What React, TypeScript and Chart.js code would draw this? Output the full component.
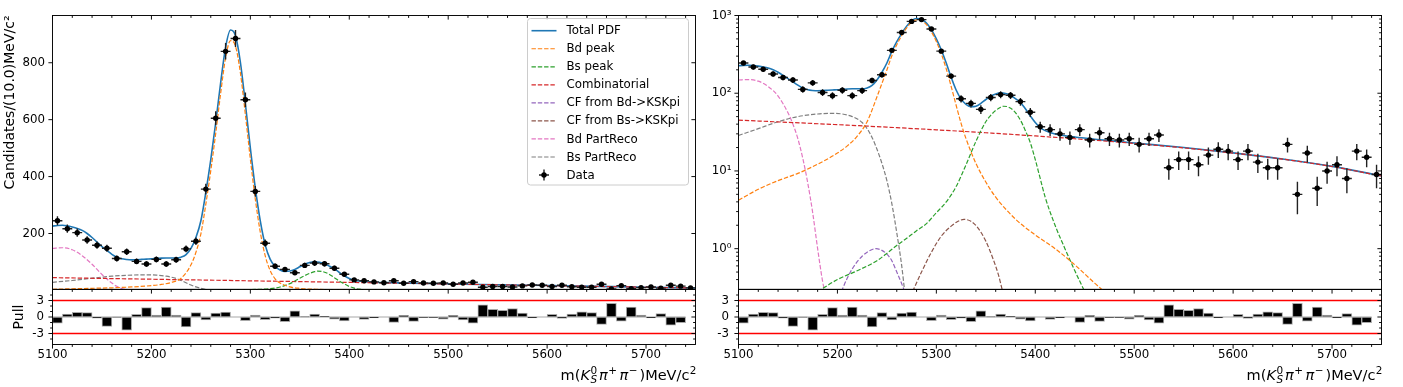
import React, { useEffect, useRef } from 'react';
import { Chart, registerables } from 'chart.js';

Chart.register(...registerables);
Chart.defaults.font.family = "'DejaVu Sans', sans-serif";
Chart.defaults.color = '#000';

// ---------------- data ----------------
const massBins = [5105, 5115, 5125, 5135, 5145, 5155, 5165, 5175, 5185, 5195, 5205, 5215, 5225, 5235, 5245, 5255, 5265, 5275, 5285, 5295, 5305, 5315, 5325, 5335, 5345, 5355, 5365, 5375, 5385, 5395, 5405, 5415, 5425, 5435, 5445, 5455, 5465, 5475, 5485, 5495, 5505, 5515, 5525, 5535, 5545, 5555, 5565, 5575, 5585, 5595, 5605, 5615, 5625, 5635, 5645, 5655, 5665, 5675, 5685, 5695, 5705, 5715, 5725, 5735, 5745];
const dataCounts = [245, 217, 203, 177, 159, 148, 112, 136, 102, 93, 109, 93, 108, 146, 173, 356, 605, 840, 885, 670, 348, 166, 85, 74, 62, 88, 96, 94, 78, 57, 37, 34, 30, 27, 34, 25, 31, 26, 25, 26, 22, 26, 29, 11, 14, 14, 12, 16, 19, 18, 14, 18, 13, 11, 11, 22, 5, 17, 6, 10, 12, 8, 18, 15, 9];
const pullValues = [-1.1, 0.55, 0.85, 0.8, -0.2, -1.7, -0.05, -2.4, 0.5, 1.7, 0.35, 1.8, 0.35, -1.8, 0.8, -0.55, 0.7, 0.9, 0.0, -0.65, 0.35, -0.5, -0.2, -0.85, 1.1, 0.05, 0.55, 0.1, -0.4, -0.7, 0.0, -0.45, -0.15, 0.0, -1.0, 0.3, -0.8, -0.1, -0.1, -0.4, 0.3, -0.55, -1.1, 2.2, 1.4, 1.2, 1.55, 0.7, -0.15, 0.0, 0.5, -0.25, 0.55, 0.95, 0.8, -1.35, 2.5, -0.75, 1.8, 0.35, -0.15, 0.6, -1.5, -1.05, 0.0];
const BIN_HALF_WIDTH = 5;

const xTickValues = [5100, 5200, 5300, 5400, 5500, 5600, 5700];
const linearYTicks = [200, 400, 600, 800];
const logYTicks = [1, 10, 100, 1000];
const logYTickLabels = ['10⁰', '10¹', '10²', '10³'];
const pullTicks = [-3, 0, 3];
const pullMinorTicks = [-4, -2, -1, 1, 2, 4];
const pullLimit = 3;

const totalX = [5100, 5105, 5110, 5115, 5120, 5125, 5130, 5135, 5140, 5145, 5150, 5155, 5160, 5165, 5170, 5175, 5180, 5185, 5190, 5195, 5200, 5205, 5210, 5215, 5220, 5225, 5230, 5235, 5240, 5245, 5250, 5255, 5260, 5265, 5270, 5275, 5280, 5285, 5290, 5295, 5300, 5305, 5310, 5315, 5320, 5325, 5330, 5335, 5340, 5345, 5350, 5355, 5360, 5365, 5370, 5375, 5380, 5385, 5390, 5395, 5400, 5405, 5410, 5420, 5440, 5460, 5480, 5500, 5550, 5600, 5650, 5700, 5750];
const totalY = [226, 228, 229, 227, 223, 218, 211, 200, 186, 170, 154, 140, 127, 117, 111, 108.5, 107.5, 108, 109, 110, 111, 112.5, 113.5, 114, 114, 114, 117, 126, 148, 186, 245, 345, 460, 590, 730, 855, 915, 895, 800, 655, 500, 360, 245, 160, 110, 84, 72, 67, 68, 74, 83, 92, 98, 101, 99, 94, 85, 76, 63, 51, 42, 36, 33, 29.8, 27.3, 25.6, 24.2, 22.9, 20, 17.1, 14.25, 11.45, 8.65];

const bdPeakX = [5100, 5120, 5140, 5160, 5180, 5200, 5210, 5220, 5230, 5240, 5245, 5250, 5255, 5260, 5265, 5270, 5275, 5280, 5285, 5290, 5295, 5300, 5305, 5310, 5315, 5320, 5325, 5330, 5340, 5350, 5360, 5380, 5400, 5420, 5440, 5460, 5470];
const bdPeakY = [4.2, 5.8, 7.5, 9.3, 12.2, 17, 21, 28, 43, 90, 134, 199, 303, 421, 552, 693, 818, 878, 858, 763, 617, 462, 321, 206, 122, 70, 41, 26, 12.5, 7.2, 4.6, 2.4, 1.5, 1.0, 0.62, 0.36, 0.28];

const bsPeakX = [5180, 5200, 5220, 5240, 5250, 5260, 5270, 5280, 5290, 5300, 5310, 5320, 5330, 5340, 5350, 5355, 5360, 5365, 5368, 5372, 5378, 5385, 5390, 5395, 5400, 5405, 5410, 5420, 5430, 5440, 5450];
const bsPeakY = [0.28, 0.4, 0.52, 0.7, 0.87, 1.1, 1.36, 1.7, 2.1, 2.9, 4.0, 6.3, 12, 24, 43, 52, 60, 66, 68, 67, 60, 45, 33, 23, 14, 8, 4.6, 2.0, 1.0, 0.52, 0.28];

const combX = [5100, 5150, 5200, 5250, 5300, 5350, 5400, 5450, 5500, 5550, 5600, 5650, 5700, 5750];
const combY = [45, 42.2, 39.4, 36.6, 33.8, 31, 28.2, 25.4, 22.6, 19.8, 17, 14.2, 11.4, 8.6];

const cfBdX = [5204, 5210, 5215, 5220, 5225, 5230, 5239, 5245, 5250, 5255, 5260, 5264, 5268];
const cfBdY = [0.28, 0.42, 0.55, 0.68, 0.8, 0.9, 1.0, 0.95, 0.85, 0.7, 0.5, 0.38, 0.28];

const cfBsX = [5276, 5285, 5295, 5305, 5315, 5322, 5328, 5335, 5342, 5350, 5358, 5363, 5367];
const cfBsY = [0.28, 0.5, 0.9, 1.45, 1.95, 2.25, 2.38, 2.25, 1.85, 1.25, 0.7, 0.45, 0.28];

const bdPartRecoX = [5100, 5110, 5120, 5130, 5140, 5150, 5155, 5160, 5165, 5170, 5175, 5180, 5185, 5188];
const bdPartRecoY = [148, 150, 143, 122, 92, 56, 40, 26, 14.5, 7, 2.9, 1.0, 0.38, 0.25];

const bsPartRecoX = [5100, 5120, 5140, 5160, 5180, 5195, 5205, 5215, 5225, 5230, 5235, 5240, 5245, 5250, 5255, 5260, 5265, 5268];
const bsPartRecoY = [28.6, 35, 43, 50, 54, 55, 54, 50, 42, 35, 27, 19, 12.5, 7.5, 3.8, 1.6, 0.6, 0.28];

// ---------------- styling ----------------
const C = {
  total: '#1f77b4', bd: '#ff7f0e', bs: '#2ca02c', comb: '#d62728',
  cfbd: '#9467bd', cfbs: '#8c564b', bdpr: '#e377c2', bspr: '#7f7f7f',
};
const FONT = "'DejaVu Sans', sans-serif";
const TICK_FONT = 11.8;
const LABEL_FONT = 14;
const DASH = [4.4, 1.9];

const components = [
  { label: 'Bd peak', xs: bdPeakX, ys: bdPeakY, color: C.bd },
  { label: 'Bs peak', xs: bsPeakX, ys: bsPeakY, color: C.bs },
  { label: 'Combinatorial', xs: combX, ys: combY, color: C.comb },
  { label: 'CF from Bd->KSKpi', xs: cfBdX, ys: cfBdY, color: C.cfbd },
  { label: 'CF from Bs->KSKpi', xs: cfBsX, ys: cfBsY, color: C.cfbs },
  { label: 'Bd PartReco', xs: bdPartRecoX, ys: bdPartRecoY, color: C.bdpr },
  { label: 'Bs PartReco', xs: bsPartRecoX, ys: bsPartRecoY, color: C.bspr },
];

const legendEntries = [
  { label: 'Total PDF', color: C.total, dashed: false, marker: false },
  ...components.map((c) => ({ label: c.label, color: c.color, dashed: true, marker: false })),
  { label: 'Data', color: '#000', dashed: false, marker: true },
];

const pts = (xs: number[], ys: number[]) => xs.map((x, i) => ({ x, y: ys[i] }));

const xMinor: number[] = [];
for (let v = 5120; v < 5750; v += 20) if (v % 100 !== 0) xMinor.push(v);
const logMinor: number[] = [];
[0.1, 1, 10, 100].forEach((d) => {
  for (let k = 2; k <= 9; k++) {
    const v = d * k;
    if (v >= 0.31 && v <= 1000) logMinor.push(v);
  }
});

// ---------------- plugins ----------------
const MAJ = 4.1;
const MIN = 2.4;

const framePlugin = {
  id: 'frame',
  afterDraw(chart: any, _a: any, o: any) {
    if (!o || !o.on) return;
    const { ctx, chartArea: a } = chart;
    const xs = chart.scales.x;
    const ys = chart.scales.y;
    ctx.save();
    ctx.strokeStyle = '#000';
    ctx.lineWidth = 0.95;
    const line = (x1: number, y1: number, x2: number, y2: number) => {
      ctx.beginPath();
      ctx.moveTo(x1, y1);
      ctx.lineTo(x2, y2);
      ctx.stroke();
    };
    (['top', 'bottom'] as const).forEach((side) => {
      const dir = o[side];
      if (!dir) return;
      const y0 = side === 'top' ? a.top : a.bottom;
      const s = (side === 'top') === (dir === 'in') ? 1 : -1;
      (o.xMaj || []).forEach((v: number) => { const p = xs.getPixelForValue(v); line(p, y0, p, y0 + s * MAJ); });
      (o.xMin || []).forEach((v: number) => { const p = xs.getPixelForValue(v); line(p, y0, p, y0 + s * MIN); });
    });
    (['left', 'right'] as const).forEach((side) => {
      const dir = o[side];
      if (!dir) return;
      const x0 = side === 'left' ? a.left : a.right;
      const s = (side === 'left') === (dir === 'in') ? 1 : -1;
      (o.yMaj || []).forEach((v: number) => { const p = ys.getPixelForValue(v); line(x0, p, x0 + s * MAJ, p); });
      (o.yMin || []).forEach((v: number) => { const p = ys.getPixelForValue(v); line(x0, p, x0 + s * MIN, p); });
    });
    ctx.strokeRect(a.left, a.top, a.right - a.left, a.bottom - a.top);
    ctx.restore();
  },
};

const errorBarPlugin = {
  id: 'errbars',
  beforeDatasetDraw(chart: any, args: any) {
    const ds = chart.data.datasets[args.index];
    if (!ds || !ds.errBars) return;
    const { ctx, chartArea: a } = chart;
    const xs = chart.scales.x;
    const ys = chart.scales.y;
    ctx.save();
    ctx.beginPath();
    ctx.rect(a.left, a.top, a.right - a.left, a.bottom - a.top);
    ctx.clip();
    ctx.strokeStyle = '#222';
    ctx.lineWidth = 1.4;
    ds.data.forEach((p: any) => {
      const e = Math.sqrt(p.y);
      const px = xs.getPixelForValue(p.x);
      const py = ys.getPixelForValue(p.y);
      ctx.beginPath();
      ctx.moveTo(xs.getPixelForValue(p.x - BIN_HALF_WIDTH), py);
      ctx.lineTo(xs.getPixelForValue(p.x + BIN_HALF_WIDTH), py);
      ctx.moveTo(px, ys.getPixelForValue(p.y + e));
      ctx.lineTo(px, ys.getPixelForValue(Math.max(p.y - e, 0.001)));
      ctx.stroke();
    });
    ctx.restore();
  },
};

const legendPlugin = {
  id: 'mplLegend',
  afterDraw(chart: any, _a: any, o: any) {
    if (!o || !o.on) return;
    const ctx = chart.ctx;
    const bx = 527.5, by = 18.5, bw = 161, bh = 166.5;
    ctx.save();
    ctx.beginPath();
    ctx.roundRect(bx, by, bw, bh, 3);
    ctx.fillStyle = 'rgba(255,255,255,0.8)';
    ctx.fill();
    ctx.strokeStyle = '#cccccc';
    ctx.lineWidth = 1;
    ctx.stroke();
    ctx.font = `${TICK_FONT}px ${FONT}`;
    ctx.textBaseline = 'middle';
    ctx.textAlign = 'left';
    legendEntries.forEach((e, i) => {
      const y = 30.7 + 18.04 * i;
      const x1 = 531.5, x2 = 556.5;
      if (e.marker) {
        const cx = (x1 + x2) / 2;
        ctx.strokeStyle = '#222';
        ctx.lineWidth = 1.4;
        ctx.setLineDash([]);
        ctx.beginPath();
        ctx.moveTo(cx - 5, y); ctx.lineTo(cx + 5, y);
        ctx.moveTo(cx, y - 5.5); ctx.lineTo(cx, y + 5.5);
        ctx.stroke();
        ctx.fillStyle = '#000';
        ctx.beginPath();
        ctx.arc(cx, y, 2.7, 0, Math.PI * 2);
        ctx.fill();
      } else {
        ctx.strokeStyle = e.color;
        ctx.lineWidth = e.dashed ? 1.2 : 1.6;
        ctx.setLineDash(e.dashed ? DASH : []);
        ctx.beginPath();
        ctx.moveTo(x1, y); ctx.lineTo(x2, y);
        ctx.stroke();
        ctx.setLineDash([]);
      }
      ctx.fillStyle = '#000';
      ctx.fillText(e.label, 566.5, y + 0.5);
    });
    ctx.restore();
  },
};

function drawMassLabel(ctx: any, right: number, baseline: number) {
  const fs = 14.5;
  const ss = fs * 0.72;
  const F = (size: number, italic: boolean) => `${italic ? 'italic ' : ''}${size}px ${FONT}`;
  const up = -fs * 0.42;
  const down = fs * 0.24;
  const segs: any[] = [
    { t: 'm(', f: F(fs, false), dy: 0, gap: 0 },
    { t: 'K', f: F(fs, true), dy: 0, gap: 0.5 },
    { t: '0', f: F(ss, false), dy: up, under: { t: 'S', f: F(ss, true), dy: down }, gap: 2 },
    { t: 'π', f: F(fs, true), dy: 0, gap: 0.5 },
    { t: '+', f: F(ss, false), dy: up, gap: 2.5 },
    { t: 'π', f: F(fs, true), dy: 0, gap: 0.5 },
    { t: '−', f: F(ss, false), dy: up, gap: 2 },
    { t: ')MeV/c', f: F(fs, false), dy: 0, gap: 0.5 },
    { t: '2', f: F(ss, false), dy: up, gap: 0 },
  ];
  ctx.save();
  ctx.fillStyle = '#000';
  ctx.textBaseline = 'alphabetic';
  ctx.textAlign = 'left';
  let total = 0;
  segs.forEach((s) => {
    ctx.font = s.f;
    let w = ctx.measureText(s.t).width;
    if (s.under) { ctx.font = s.under.f; w = Math.max(w, ctx.measureText(s.under.t).width); }
    s.w = w + s.gap;
    total += s.w;
  });
  let x = right - total + 1;
  segs.forEach((s) => {
    ctx.font = s.f;
    ctx.fillText(s.t, x, baseline + s.dy);
    if (s.under) { ctx.font = s.under.f; ctx.fillText(s.under.t, x, baseline + s.under.dy); }
    x += s.w;
  });
  ctx.restore();
}

const textPlugin = {
  id: 'texts',
  afterDraw(chart: any, _a: any, o: any) {
    if (!o) return;
    const ctx = chart.ctx;
    if (o.yTitle) {
      const t = o.yTitle;
      ctx.save();
      ctx.translate(t.x, t.y);
      ctx.rotate(-Math.PI / 2);
      ctx.font = `${LABEL_FONT}px ${FONT}`;
      ctx.textAlign = t.align;
      ctx.textBaseline = 'middle';
      ctx.fillStyle = '#000';
      ctx.fillText(t.text, 0, 0);
      ctx.restore();
    }
    if (o.massLabel) drawMassLabel(ctx, chart.chartArea.right, o.massLabel.baseline);
  },
};

// ---------------- chart configs ----------------
const noPad = (s: any) => { s.paddingTop = 0; s.paddingBottom = 0; s.paddingLeft = 0; s.paddingRight = 0; };

function mainConfig(log: boolean, axisWidth: number, padRight: number, withLegend: boolean, withTitle: boolean) {
  const datasets: any[] = [];
  datasets.push({
    type: 'scatter', label: 'Data', data: pts(massBins, dataCounts), errBars: true,
    pointRadius: 2.7, pointHoverRadius: 2.7, pointBackgroundColor: '#000', pointBorderColor: '#000', pointBorderWidth: 0, showLine: false,
  });
  components.forEach((c) => datasets.push({
    type: 'scatter', label: c.label, data: pts(c.xs, c.ys), showLine: true, pointRadius: 0,
    borderColor: c.color, backgroundColor: c.color, borderWidth: 1.2, borderDash: DASH,
    cubicInterpolationMode: 'monotone', fill: false,
  }));
  datasets.push({
    type: 'scatter', label: 'Total PDF', data: pts(totalX, totalY), showLine: true, pointRadius: 0,
    borderColor: C.total, backgroundColor: C.total, borderWidth: 1.6, cubicInterpolationMode: 'monotone', fill: false,
  });
  const yScale: any = log
    ? {
        type: 'logarithmic', min: 0.31, max: 1000,
        afterBuildTicks: (s: any) => { s.ticks = logYTicks.map((v) => ({ value: v })); },
        ticks: { autoSkip: false, padding: 7, font: { size: TICK_FONT }, color: '#000',
          callback: (v: any) => { const i = logYTicks.indexOf(Number(v)); return i >= 0 ? logYTickLabels[i] : ''; } },
      }
    : {
        type: 'linear', min: 4, max: 966,
        afterBuildTicks: (s: any) => { s.ticks = linearYTicks.map((v) => ({ value: v })); },
        ticks: { autoSkip: false, padding: 7.5, font: { size: TICK_FONT }, color: '#000', callback: (v: any) => String(v) },
      };
  yScale.grid = { display: false, drawTicks: false };
  yScale.border = { display: false };
  yScale.afterFit = (s: any) => { s.width = axisWidth; noPad(s); };
  return {
    type: 'scatter',
    data: { datasets },
    options: {
      responsive: false, maintainAspectRatio: false, animation: false, events: [],
      layout: { padding: { left: 0, top: 15.5, right: padRight, bottom: 2.5 } },
      scales: {
        x: { type: 'linear', min: 5100, max: 5750, display: false },
        y: yScale,
      },
      plugins: {
        legend: { display: false }, tooltip: { enabled: false },
        frame: {
          on: true, top: 'in', left: 'out', right: 'in',
          xMaj: xTickValues, xMin: xMinor,
          yMaj: log ? logYTicks : linearYTicks, yMin: log ? logMinor : [],
        },
        mplLegend: { on: withLegend },
        texts: withTitle ? { yTitle: { text: 'Candidates/(10.0)MeV/c²', x: 10.5, y: 15.5, align: 'right' } } : {},
      },
    },
    plugins: [framePlugin, errorBarPlugin, legendPlugin, textPlugin],
  };
}

function pullConfig(axisWidth: number, padRight: number, labelPad: number, withTitle: boolean) {
  const datasets: any[] = [
    { type: 'line', data: [{ x: 5100, y: pullLimit }, { x: 5750, y: pullLimit }], borderColor: '#ff0000', borderWidth: 1.5, pointRadius: 0 },
    { type: 'line', data: [{ x: 5100, y: -pullLimit }, { x: 5750, y: -pullLimit }], borderColor: '#ff0000', borderWidth: 1.5, pointRadius: 0 },
    {
      type: 'bar', data: pts(massBins, pullValues), backgroundColor: '#000', borderColor: '#a8a8a8',
      borderWidth: 1, borderSkipped: false, barPercentage: 1, categoryPercentage: 1,
    },
    { type: 'line', data: [{ x: 5100, y: 0 }, { x: 5740, y: 0 }], borderColor: '#a8a8a8', borderWidth: 1.2, pointRadius: 0 },
  ];
  return {
    type: 'scatter',
    data: { datasets },
    options: {
      responsive: false, maintainAspectRatio: false, animation: false, events: [],
      layout: { padding: { left: 0, top: 2.5, right: padRight, bottom: 0 } },
      scales: {
        x: {
          type: 'linear', min: 5100, max: 5750, offset: false,
          grid: { display: false, drawTicks: false, offset: false }, border: { display: false },
          afterBuildTicks: (s: any) => { s.ticks = xTickValues.map((v) => ({ value: v })); },
          ticks: { autoSkip: false, maxRotation: 0, padding: 3, font: { size: TICK_FONT }, color: '#000', callback: (v: any) => String(v) },
          afterFit: (s: any) => { s.height = 42.5; noPad(s); },
        },
        y: {
          type: 'linear', min: -5, max: 5,
          grid: { display: false, drawTicks: false }, border: { display: false },
          afterBuildTicks: (s: any) => { s.ticks = pullTicks.map((v) => ({ value: v })); },
          ticks: { autoSkip: false, padding: labelPad, font: { size: TICK_FONT }, color: '#000', callback: (v: any) => String(v) },
          afterFit: (s: any) => { s.width = axisWidth; noPad(s); },
        },
      },
      plugins: {
        legend: { display: false }, tooltip: { enabled: false },
        frame: {
          on: true, top: 'in', bottom: 'out', left: 'out', right: 'in',
          xMaj: xTickValues, xMin: xMinor, yMaj: pullTicks, yMin: pullMinorTicks,
        },
        mplLegend: { on: false },
        texts: {
          massLabel: { baseline: 93 },
          ...(withTitle ? { yTitle: { text: 'Pull', x: 19, y: 30, align: 'center' } } : {}),
        },
      },
    },
    plugins: [framePlugin, textPlugin],
  };
}

// ---------------- component ----------------
function ChartBox(props: { left: number; top: number; width: number; height: number; config: () => any }) {
  const ref = useRef<HTMLCanvasElement | null>(null);
  useEffect(() => {
    if (!ref.current) return;
    const chart = new Chart(ref.current, props.config());
    return () => chart.destroy();
  }, []);
  return (
    <div style={{ position: 'absolute', left: props.left, top: props.top, width: props.width, height: props.height }}>
      <canvas ref={ref} width={props.width} height={props.height} style={{ display: 'block', width: props.width, height: props.height }} />
    </div>
  );
}

export default function App() {
  return (
    <div style={{ position: 'fixed', left: 0, top: 0, width: 1403, height: 387, background: '#fff', overflow: 'hidden' }}>
      <ChartBox left={0} top={287} width={700} height={100} config={() => pullConfig(52.5, 4.5, 8.5, true)} />
      <ChartBox left={700} top={287} width={703} height={100} config={() => pullConfig(38.5, 21.5, 9.5, false)} />
      <ChartBox left={0} top={0} width={700} height={292} config={() => mainConfig(false, 52.5, 4.5, true, true)} />
      <ChartBox left={700} top={0} width={703} height={292} config={() => mainConfig(true, 38.5, 21.5, false, false)} />
    </div>
  );
}
